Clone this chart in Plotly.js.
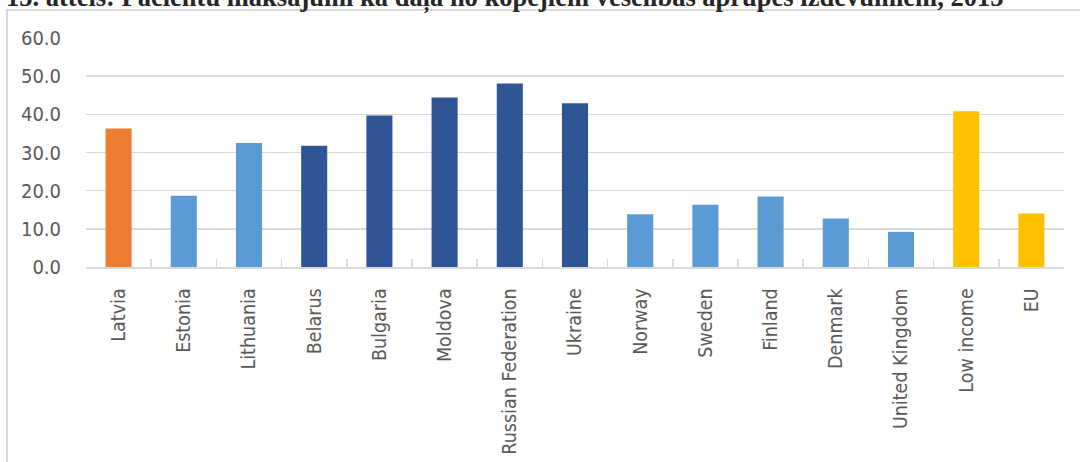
<!DOCTYPE html>
<html>
<head>
<meta charset="utf-8">
<script src="https://cdn.plot.ly/plotly-3.0.1.min.js"></script>
<style>html,body{margin:0;padding:0;background:#fff;}#chart{width:1080px;height:462px;}</style>
</head>
<body>
<div id="chart"></div>
<script>
const categories = ["Latvia","Estonia","Lithuania","Belarus","Bulgaria","Moldova","Russian Federation","Ukraine","Norway","Sweden","Finland","Denmark","United Kingdom","Low income","EU"];
const values = [36.3,18.7,32.5,31.8,39.7,44.4,48.1,42.9,13.8,16.3,18.5,12.7,9.2,40.8,14.0];
const groups = ["Latvia","Baltic","Baltic","East","East","East","East","East","Nordic","Nordic","Nordic","Nordic","Nordic","Ref","Ref"];
const groupColors = {Latvia:"#ED7D31", Baltic:"#5B9BD5", East:"#2F5597", Nordic:"#5B9BD5", Ref:"#FFC000"};
const yTicks = [0,10,20,30,40,50,60];
const titleText = "15. attēls: Pacientu maksājumi kā daļa no kopējiem veselības aprūpes izdevumiem, 2015";

const font = "'DejaVu Sans Condensed', 'Liberation Sans Narrow', sans-serif";
const W = 1080, H = 462, mt = 38, mb = 195, ml = 86, mr = 16;
const ph = H - mt - mb, pw = W - ml - mr;

const trace = {
  type: "bar",
  x: categories,
  y: values,
  marker: {color: groups.map(g => groupColors[g])},
  hoverinfo: "x+y"
};

const layout = {
  width: W, height: H,
  margin: {l: ml, r: mr, t: mt, b: mb, pad: 0},
  paper_bgcolor: "#fff", plot_bgcolor: "#fff",
  showlegend: false,
  bargap: 0.6,
  font: {family: font, color: "#595959", size: 19},
  xaxis: {
    type: "category",
    tickangle: -90,
    tickson: "boundaries",
    ticks: "inside",
    ticklen: 8,
    tickcolor: "#d9d9d9",
    tickwidth: 1.5,
    showline: true,
    linecolor: "#d9d9d9",
    linewidth: 1.5,
    showgrid: false,
    ticklabelstandoff: 12,
    tickfont: {family: font, size: 19.5, color: "#595959"}
  },
  yaxis: {
    range: [0, 60],
    tickvals: yTicks,
    ticktext: yTicks.map(v => v.toFixed(1)),
    showgrid: true,
    gridcolor: "#d9d9d9",
    gridwidth: 1.5,
    zeroline: false,
    showline: false,
    ticks: "",
    ticklabelstandoff: 24,
    tickfont: {family: font, size: 20, color: "#595959"}
  },
  shapes: [{
    type: "rect", xref: "paper", yref: "paper",
    x0: (7 - ml) / pw, x1: (W + 20 - ml) / pw,
    y0: -(H + 20 - mt - ph) / ph, y1: 1 + (mt - 10) / ph,
    line: {color: "#d9d9d9", width: 2}, fillcolor: "rgba(0,0,0,0)"
  }],
  annotations: [{
    text: "<b>" + titleText + "</b>",
    xref: "paper", yref: "paper",
    x: (4 - ml) / pw, xanchor: "left",
    y: 1 + (mt - 16) / ph, yanchor: "bottom",
    showarrow: false,
    font: {family: "'Liberation Serif', 'Times New Roman', serif", size: 26.5, color: "#262626"}
  }]
};

Plotly.newPlot("chart", [trace], layout, {staticPlot: true, displayModeBar: false});
</script>
</body>
</html>
